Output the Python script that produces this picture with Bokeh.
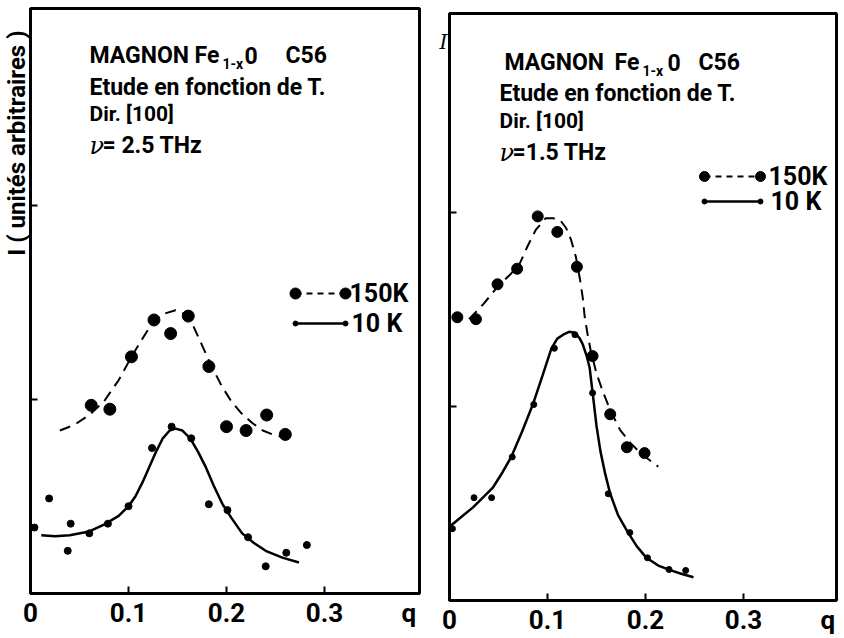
import math
from bokeh.plotting import figure
from bokeh.layouts import row
from bokeh.models import Label, FixedTicker, Title
from bokeh.embed import file_html
from bokeh.resources import INLINE

# ---------------- data ----------------
# Left panel: nu = 2.5 THz
left_150_q = [0.062, 0.081, 0.103, 0.126, 0.143, 0.161, 0.182, 0.200, 0.220, 0.241, 0.260]
left_150_I = [0.97, 0.95, 1.22, 1.41, 1.34, 1.43, 1.17, 0.86, 0.84, 0.92, 0.82]
left_10_q = [0.004, 0.019, 0.038, 0.041, 0.060, 0.079, 0.100, 0.124, 0.144, 0.164,
             0.182, 0.201, 0.222, 0.240, 0.261, 0.282]
left_10_I = [0.34, 0.49, 0.22, 0.36, 0.31, 0.36, 0.45, 0.75, 0.86, 0.80,
             0.46, 0.43, 0.29, 0.14, 0.21, 0.25]
left_fit150_q = [0.030, 0.045, 0.060, 0.075, 0.090, 0.103, 0.115, 0.125, 0.135, 0.148, 0.158,
                 0.166, 0.175, 0.184, 0.195, 0.205, 0.215, 0.226, 0.237, 0.247, 0.255]
left_fit150_I = [0.84, 0.87, 0.92, 0.99, 1.10, 1.22, 1.32, 1.40, 1.44, 1.46, 1.44,
                 1.38, 1.28, 1.18, 1.07, 0.99, 0.93, 0.88, 0.84, 0.82, 0.81]
left_fit10_q = [0.011, 0.025, 0.040, 0.060, 0.075, 0.090, 0.100, 0.107, 0.114, 0.121, 0.128,
                0.135, 0.142, 0.148, 0.155, 0.163, 0.171, 0.179, 0.187, 0.196, 0.205,
                0.216, 0.228, 0.240, 0.257, 0.274]
left_fit10_I = [0.30, 0.295, 0.30, 0.32, 0.355, 0.40, 0.45, 0.50, 0.57, 0.65, 0.73,
                0.80, 0.84, 0.85, 0.84, 0.80, 0.73, 0.65, 0.555, 0.46, 0.39,
                0.31, 0.26, 0.22, 0.185, 0.16]

# Right panel: nu = 1.5 THz
right_150_q = [0.008, 0.027, 0.049, 0.069, 0.090, 0.110, 0.130, 0.146, 0.164, 0.181, 0.199]
right_150_I = [1.46, 1.45, 1.63, 1.71, 1.98, 1.90, 1.72, 1.26, 0.96, 0.79, 0.76]
right_10_q = [0.003, 0.025, 0.043, 0.064, 0.086, 0.107, 0.128, 0.146, 0.162, 0.184,
              0.202, 0.224, 0.241]
right_10_I = [0.37, 0.53, 0.53, 0.74, 1.01, 1.30, 1.37, 1.07, 0.55, 0.35,
              0.22, 0.16, 0.155]
right_fit150_q = [0.020, 0.035, 0.051, 0.062, 0.072, 0.080, 0.088, 0.098, 0.106, 0.113, 0.119,
                  0.124, 0.129, 0.133, 0.136, 0.138, 0.141, 0.144, 0.150, 0.157, 0.165,
                  0.174, 0.185, 0.195, 0.205, 0.213]
right_fit150_I = [1.45, 1.53, 1.63, 1.68, 1.74, 1.83, 1.91, 1.97, 1.97, 1.96, 1.92,
                  1.86, 1.77, 1.66, 1.56, 1.46, 1.37, 1.29, 1.17, 1.07, 0.97,
                  0.88, 0.81, 0.76, 0.72, 0.69]
right_fit10_q = [0.000, 0.012, 0.024, 0.034, 0.044, 0.054, 0.063, 0.074, 0.085, 0.095, 0.104,
                 0.110, 0.116, 0.122, 0.128, 0.133, 0.136, 0.140, 0.143, 0.147, 0.150,
                 0.154, 0.159, 0.164, 0.172, 0.181, 0.191, 0.201, 0.213, 0.226, 0.238, 0.249]
right_fit10_I = [0.38, 0.43, 0.48, 0.53, 0.58, 0.66, 0.74, 0.87, 1.01, 1.16, 1.30,
                 1.35, 1.37, 1.385, 1.38, 1.35, 1.32, 1.26, 1.20, 1.03, 0.90,
                 0.77, 0.65, 0.55, 0.44, 0.36, 0.28, 0.22, 0.18, 0.155, 0.135, 0.12]

x_ticks = [0, 0.1, 0.2, 0.3]
x_tick_labels = ["0", "0.1", "0.2", "0.3"]
q_label = "q"
q_label_pos = 0.386
y_ticks = [1, 2]
series_labels = ["150K", "10 K"]
titles_left = ["MAGNON", "Fe", "1-x", "0", "C56", "Etude en fonction de T.", "Dir. [100]", "\u03bd", "= 2.5 THz"]
titles_right = ["MAGNON", "Fe", "1-x", "0", "C56", "Etude en fonction de T.", "Dir. [100]", "\u03bd", "=1.5 THz"]
y_label = "I  ( unités  arbitraires )"
y_label_right = "I"

FONT = "Roboto"
SERIF = "DejaVu Serif"
TICK_LEN = 7  # px


def make_panel(cfg, pts150, pts10, fit150, fit10, texts, leg):
    xmax = cfg["fw"] / cfg["ppx"]
    ymax = cfg["fh"] / cfg["ppy"]
    p = figure(frame_width=cfg["fw"], frame_height=cfg["fh"],
               x_range=(0, xmax), y_range=(0, ymax),
               output_backend="svg", toolbar_location=None,
               min_border_left=cfg["bl"], min_border_right=cfg["br"],
               min_border_top=cfg["bt"], min_border_bottom=cfg["bb"],
               background_fill_color="white", border_fill_color="white")
    p.frame_align = False
    p.xgrid.visible = False
    p.ygrid.visible = False
    p.outline_line_color = "black"
    p.outline_line_width = 3

    xa = p.xaxis[0]
    xa.ticker = FixedTicker(ticks=x_ticks + [q_label_pos])
    overrides = {t: l for t, l in zip(x_ticks, x_tick_labels)}
    overrides[q_label_pos] = q_label
    xa.major_label_overrides = overrides
    xa.axis_line_width = 3
    xa.major_tick_in = 0
    xa.major_tick_out = 0
    xa.minor_tick_line_color = None
    xa.major_label_standoff = 4
    xa.major_label_text_font = FONT
    xa.major_label_text_font_style = "bold"
    xa.major_label_text_font_size = "26px"
    xa.major_label_text_color = "black"
    # inward tick marks of the q axis (at the numbered ticks only)
    p.segment(x0=x_ticks, y0=[0] * len(x_ticks), x1=x_ticks,
              y1=[TICK_LEN / cfg["ppy"]] * len(x_ticks), line_color="black", line_width=2)

    ya = p.yaxis[0]
    ya.ticker = FixedTicker(ticks=y_ticks)
    ya.axis_line_width = 3
    ya.major_tick_in = TICK_LEN
    ya.major_tick_out = 0
    ya.major_tick_line_width = 2
    ya.minor_tick_line_color = None
    ya.major_label_text_color = None
    ya.major_label_text_font_size = "1px"
    ya.major_label_standoff = 0

    # fitted curves
    p.line(fit150[0], fit150[1], line_color="black", line_width=2, line_dash="11 7")
    p.line(fit10[0], fit10[1], line_color="black", line_width=2.5)
    # measured points
    p.scatter(pts150[0], pts150[1], size=cfg["big"], color="black")
    p.scatter(pts10[0], pts10[1], size=cfg["small"], color="black")

    def dq(px):
        return (px - cfg["fl"]) / cfg["ppx"]

    def dI(py):
        return (cfg["fb"] - py) / cfg["ppy"]

    def text(px, py, t, size, font=FONT, style="bold", angle=0.0, align="left", baseline="alphabetic"):
        p.add_layout(Label(x=dq(px), y=dI(py), text=t, text_font=font,
                           text_font_size=f"{size}px", text_font_style=style,
                           text_align=align, text_baseline=baseline, angle=angle,
                           text_color="black"))

    # title block
    for (px, py, size, font, style), t in zip(cfg["title_pos"], texts):
        text(px, py, t, size, font, style)

    # legend
    (lx0, lx1, ly150, ly10, ltx) = leg
    p.line([dq(lx0), dq(lx1)], [dI(ly150), dI(ly150)], line_color="black", line_width=2, line_dash="6 5")
    p.scatter([dq(lx0), dq(lx1)], [dI(ly150), dI(ly150)], size=cfg["big"] - 1, color="black")
    p.line([dq(lx0), dq(lx1)], [dI(ly10), dI(ly10)], line_color="black", line_width=2.5)
    p.scatter([dq(lx0), dq(lx1)], [dI(ly10), dI(ly10)], size=5, color="black")
    text(ltx, ly150, series_labels[0], 25, baseline="middle")
    text(ltx + 2, ly10, series_labels[1], 25, baseline="middle")
    return p, text


left_cfg = dict(fl=28, fb=593, fw=389, fh=585, ppx=980, ppy=194,
                bl=28, br=15, bt=8, bb=31, big=12, small=7,
                title_pos=[(87, 55, 23, FONT, "bold"), (192, 55, 23, FONT, "bold"),
                           (220, 63, 14, FONT, "bold"), (242, 55, 23, FONT, "bold"),
                           (283, 55, 23, FONT, "bold"), (87, 87, 23, FONT, "bold"),
                           (87, 113, 21, FONT, "bold"), (87, 145, 24, SERIF, "italic"),
                           (100, 145, 23, FONT, "bold")])
right_cfg = dict(fl=447, fb=600, fw=387, fh=587, ppx=980, ppy=194,
                 bl=15, br=2, bt=13, bb=31, big=11, small=6,
                 title_pos=[(502, 62, 23, FONT, "bold"), (612, 62, 23, FONT, "bold"),
                            (640, 70, 14, FONT, "bold"), (665, 62, 23, FONT, "bold"),
                            (696, 62, 23, FONT, "bold"), (497, 93, 23, FONT, "bold"),
                            (497, 120, 21, FONT, "bold"), (497, 152, 24, SERIF, "italic"),
                            (510, 152, 23, FONT, "bold")])

p1, text1 = make_panel(left_cfg, (left_150_q, left_150_I), (left_10_q, left_10_I),
                       (left_fit150_q, left_fit150_I), (left_fit10_q, left_fit10_I),
                       titles_left, (293, 343, 293, 323, 347))
p1.add_layout(Title(text=y_label, align="right", offset=10, standoff=0,
                    text_font=FONT, text_font_size="24px", text_font_style="bold",
                    text_color="black"), "left")

p2, text2 = make_panel(right_cfg, (right_150_q, right_150_I), (right_10_q, right_10_I),
                       (right_fit150_q, right_fit150_I), (right_fit10_q, right_fit10_I),
                       titles_right, (702, 758, 176, 201, 766))
ya2 = p2.yaxis[0]
if "axis_label_align" in ya2.properties():
    ya2.axis_label = "\n\n" + y_label_right
    ya2.axis_label_orientation = "horizontal"
    ya2.axis_label_align = "end"
    ya2.axis_label_standoff = 2
    ya2.axis_label_text_font = SERIF
    ya2.axis_label_text_font_style = "italic"
    ya2.axis_label_text_font_size = "20px"
    ya2.axis_label_text_color = "black"
else:
    text2(452, 40, y_label_right, 20, font=SERIF, style="italic")

layout = row(p1, p2)
open("out.html", "w").write(file_html(layout, INLINE))
